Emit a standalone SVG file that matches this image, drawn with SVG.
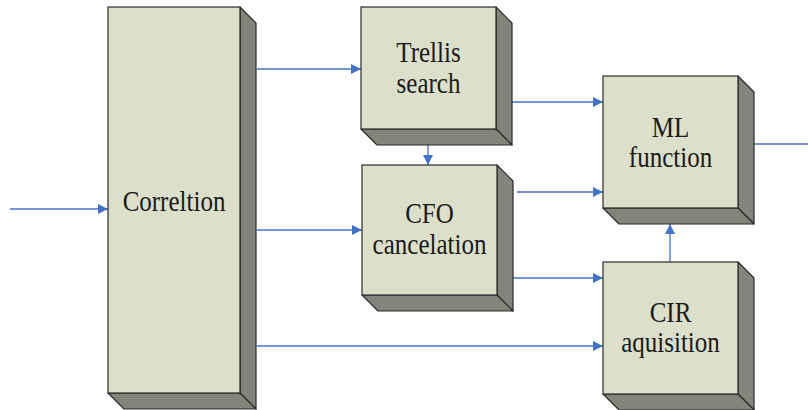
<svg xmlns="http://www.w3.org/2000/svg" width="808" height="410" viewBox="0 0 808 410">
  <defs>
    <marker id="arrow" viewBox="0 0 10 10" refX="10" refY="5" markerWidth="10" markerHeight="10" markerUnits="userSpaceOnUse" orient="auto">
      <path d="M0,0 L10,5 L0,10 Z" fill="#4472c4"/>
    </marker>
    <style>
      .front { fill: #dcdfca; stroke: #2b2b2b; stroke-width: 1.2; }
      .shade { fill: #828579; stroke: #2b2b2b; stroke-width: 1.2; stroke-linejoin: round; }
      .label { font-family: "Liberation Serif", "Times New Roman", serif; font-size: 25px; fill: #1a1a1a; text-anchor: middle; }
      .wire { stroke: #4472c4; stroke-width: 1.3; fill: none; }
      .wire.arrow { marker-end: url(#arrow); }
    </style>
  </defs>

  <rect width="808" height="410" fill="#ffffff"/>

  <!-- connectors -->
  <g id="connectors">
    <line class="wire arrow" x1="10" y1="209" x2="108" y2="209"/>
    <line class="wire arrow" x1="257" y1="69" x2="361" y2="69"/>
    <line class="wire arrow" x1="257" y1="230" x2="362" y2="230"/>
    <line class="wire arrow" x1="257" y1="346" x2="603" y2="346"/>
    <line class="wire arrow" x1="428" y1="145" x2="428" y2="165"/>
    <line class="wire arrow" x1="512" y1="102" x2="603" y2="102"/>
    <line class="wire arrow" x1="517" y1="192" x2="603" y2="192"/>
    <line class="wire arrow" x1="512" y1="278" x2="603" y2="278"/>
    <line class="wire arrow" x1="670" y1="262" x2="670" y2="224"/>
    <line class="wire" x1="753" y1="144" x2="808" y2="144"/>
  </g>

  <!-- Correltion -->
  <g id="correltion">
    <polygon class="shade" points="240,7 256,23 256,409 240,393"/>
    <polygon class="shade" points="108,393 240,393 256,409 124,409"/>
    <rect class="front" x="108" y="7" width="132" height="386"/>
    <text class="label" transform="translate(174,211) scale(1,1.15)">Correltion</text>
  </g>

  <!-- Trellis search -->
  <g id="trellis">
    <polygon class="shade" points="496,7 512,23 512,145 496,129"/>
    <polygon class="shade" points="361,129 496,129 512,145 377,145"/>
    <rect class="front" x="361" y="7" width="135" height="122"/>
    <text class="label" transform="translate(428.5,62) scale(1,1.15)">Trellis</text>
    <text class="label" transform="translate(428.5,93) scale(1,1.15)">search</text>
  </g>

  <!-- CFO cancelation -->
  <g id="cfo">
    <polygon class="shade" points="497,165 513,181 513,311 497,295"/>
    <polygon class="shade" points="362,295 497,295 513,311 378,311"/>
    <rect class="front" x="362" y="165" width="135" height="130"/>
    <text class="label" transform="translate(429.5,223) scale(1,1.15)">CFO</text>
    <text class="label" transform="translate(429.5,254) scale(1,1.15)">cancelation</text>
  </g>

  <!-- ML function -->
  <g id="ml">
    <polygon class="shade" points="738,76 754,92 754,224 738,208"/>
    <polygon class="shade" points="603,208 738,208 754,224 619,224"/>
    <rect class="front" x="603" y="76" width="135" height="132"/>
    <text class="label" transform="translate(670.5,137) scale(1,1.15)">ML</text>
    <text class="label" transform="translate(670.5,167) scale(1,1.15)">function</text>
  </g>

  <!-- CIR aquisition -->
  <g id="cir">
    <polygon class="shade" points="738,262 754,278 754,410 738,394"/>
    <polygon class="shade" points="603,394 738,394 754,410 619,410"/>
    <rect class="front" x="603" y="262" width="135" height="132"/>
    <text class="label" transform="translate(670.5,322) scale(1,1.15)">CIR</text>
    <text class="label" transform="translate(670.5,352) scale(1,1.15)">aquisition</text>
  </g>
</svg>
